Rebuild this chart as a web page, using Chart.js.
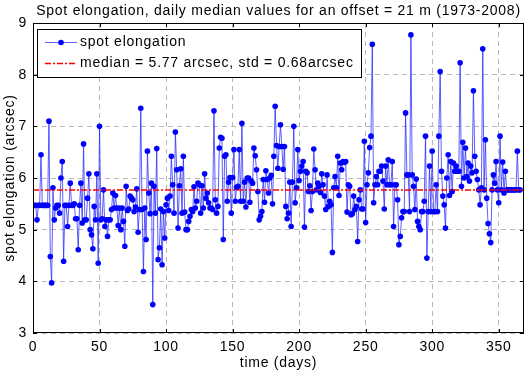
<!DOCTYPE html>
<html>
<head>
<meta charset="utf-8">
<script src="https://cdn.jsdelivr.net/npm/chart.js@4.4.1/dist/chart.umd.min.js"></script>
<style>
  html, body { margin: 0; padding: 0; background: #fff; }
  #wrap { width: 528px; height: 373px; }
</style>
</head>
<body>
<div id="wrap"><canvas id="chart" width="528" height="373"></canvas></div>
<script>
// daily median spot elongation (arcsec), one value per day of the year
const elongation = [
  5.47, 5.47, 5.19, 5.47, 5.47, 6.45, 5.47, 5.47, 5.47, 5.47,
  5.47, 7.10, 4.48, 3.97, 5.81, 5.19, 5.42, 5.47, 5.47, 5.32,
  6.00, 6.32, 4.39, 5.47, 5.47, 5.06, 5.47, 5.90, 5.47, 5.47,
  5.50, 5.21, 5.21, 4.61, 5.47, 5.90, 5.13, 6.66, 5.19, 5.19,
  5.61, 6.08, 5.00, 4.90, 4.63, 5.45, 5.19, 6.08, 4.35, 7.00,
  5.19, 5.21, 5.77, 5.06, 5.19, 4.87, 5.19, 5.19, 5.39, 5.71,
  5.42, 5.66, 5.42, 5.08, 5.42, 5.00, 5.42, 5.16, 4.68, 5.84,
  5.37, 5.40, 5.65, 5.61, 5.58, 5.35, 5.44, 5.79, 4.95, 5.39,
  7.35, 5.39, 4.19, 5.42, 4.81, 6.52, 5.71, 5.31, 5.90, 3.55,
  5.84, 5.32, 6.57, 4.42, 4.65, 5.40, 4.32, 5.35, 4.84, 5.48,
  5.61, 5.37, 5.65, 6.42, 5.87, 5.32, 6.89, 6.16, 5.03, 5.85,
  6.18, 5.32, 6.42, 5.34, 5.00, 5.00, 5.16, 5.26, 5.39, 5.35,
  5.83, 5.42, 5.55, 5.90, 5.87, 5.32, 5.85, 5.42, 6.08, 5.61,
  5.71, 5.52, 5.42, 5.42, 5.39, 7.30, 5.58, 5.32, 5.45, 6.58,
  6.79, 6.77, 4.81, 6.42, 6.45, 5.55, 5.92, 6.01, 5.32, 6.01,
  6.55, 5.55, 5.82, 5.84, 6.55, 5.55, 7.06, 5.55, 5.92, 5.44,
  6.00, 6.00, 5.53, 5.94, 5.90, 6.58, 6.43, 6.16, 5.74, 5.19,
  5.26, 5.35, 5.97, 5.53, 6.14, 5.97, 5.71, 6.00, 6.05, 5.50,
  6.42, 7.39, 6.63, 6.19, 6.61, 7.03, 6.61, 6.17, 6.61, 5.45,
  5.21, 5.32, 5.92, 5.06, 5.92, 7.00, 5.52, 5.81, 6.55, 5.95,
  6.13, 6.23, 6.32, 5.05, 6.13, 6.10, 5.74, 5.85, 5.37, 5.74,
  6.56, 6.16, 5.77, 5.90, 5.84, 5.72, 6.08, 5.87, 5.65, 5.39,
  6.06, 5.45, 5.55, 5.48, 4.56, 5.81, 6.03, 5.81, 6.42, 5.66,
  6.29, 6.16, 6.32, 6.30, 6.32, 5.34, 5.87, 5.84, 5.29, 5.31,
  5.65, 5.39, 5.45, 4.77, 5.58, 5.77, 5.40, 5.40, 6.71, 5.14,
  5.87, 6.10, 6.59, 6.81, 8.59, 5.52, 5.87, 6.03, 5.87, 6.13,
  6.13, 6.23, 5.94, 5.40, 6.23, 5.87, 6.35, 5.87, 5.87, 6.32,
  5.06, 5.87, 5.87, 5.58, 4.71, 4.87, 5.23, 5.35, 5.35, 7.26,
  6.06, 6.06, 5.35, 8.77, 6.06, 5.84, 5.39, 5.98, 5.16, 5.06,
  5.00, 5.35, 5.35, 5.55, 6.81, 4.45, 5.35, 6.23, 5.35, 6.52,
  5.35, 5.35, 5.87, 5.35, 6.81, 8.06, 6.13, 5.65, 5.48, 5.03,
  6.00, 6.45, 5.66, 6.32, 5.74, 6.29, 6.13, 6.23, 6.13, 6.13,
  8.23, 5.84, 6.69, 6.00, 6.58, 6.03, 6.29, 5.94, 6.23, 6.10,
  7.69, 6.42, 6.13, 5.97, 5.77, 5.48, 5.81, 8.50, 5.77, 6.74,
  5.61, 5.12, 4.92, 4.75, 5.77, 6.06, 5.90, 6.32, 5.77, 5.52,
  6.81, 5.77, 6.31, 5.71, 6.13, 5.77, 5.77, 5.77, 5.77, 5.77,
  5.77, 5.77, 5.77, 6.52, 5.77, 5.77
];
const days = elongation.map((_, i) => i + 1);

const median = 5.77;
const std = 0.68;
const xMin = 0, xMax = 369, xStep = 50;
const yMin = 3, yMax = 9, yStep = 1;

const titleText = "Spot elongation, daily median values for an offset = 21 m (1973-2008)";
const seriesLabel = "spot elongation";
const medianLabel = "median = " + median + " arcsec, std = " + std + "arcsec";

const FONT = "'Liberation Sans', Arial, Helvetica, sans-serif";
const SPACING = "0.75px"; // matlab text renders a bit wider than Arial

// MATLAB-ish box, inward ticks, legend and title
const decorations = {
  id: "decorations",
  beforeDraw(chart) {
    chart.ctx.letterSpacing = SPACING;
  },
  afterDraw(chart) {
    const { ctx, chartArea: a, scales: { x, y } } = chart;
    ctx.save();
    ctx.letterSpacing = SPACING;
    ctx.strokeStyle = "#000";
    ctx.lineWidth = 1;
    ctx.setLineDash([]);
    const tl = 4;
    ctx.beginPath();
    x.ticks.forEach(t => {
      const px = Math.round(x.getPixelForValue(t.value)) + 0.5;
      ctx.moveTo(px, a.bottom); ctx.lineTo(px, a.bottom - tl);
      ctx.moveTo(px, a.top); ctx.lineTo(px, a.top + tl);
    });
    y.ticks.forEach(t => {
      const py = Math.round(y.getPixelForValue(t.value)) + 0.5;
      ctx.moveTo(a.left, py); ctx.lineTo(a.left + tl, py);
      ctx.moveTo(a.right, py); ctx.lineTo(a.right - tl, py);
    });
    ctx.stroke();
    ctx.strokeRect(Math.round(a.left) + 0.5, Math.round(a.top) + 0.5,
      Math.round(a.width) - 1, Math.round(a.height) - 1);

    // legend box
    const lx = 37.5, ly = 29.5, lw = 324, lh = 48;
    ctx.fillStyle = "#fff";
    ctx.fillRect(lx, ly, lw, lh);
    ctx.strokeRect(lx, ly, lw, lh);

    // row 1: blue line + marker
    ctx.strokeStyle = "rgba(40,40,255,0.75)";
    ctx.beginPath(); ctx.moveTo(45, 42.5); ctx.lineTo(77, 42.5); ctx.stroke();
    ctx.fillStyle = "#0000ff";
    ctx.beginPath(); ctx.arc(61, 42.5, 2.8, 0, Math.PI * 2); ctx.fill();

    // row 2: red dash-dot
    ctx.strokeStyle = "#ff0000";
    ctx.lineWidth = 1.5;
    ctx.setLineDash([6, 2, 2, 2]);
    ctx.beginPath(); ctx.moveTo(45, 63.5); ctx.lineTo(77, 63.5); ctx.stroke();
    ctx.setLineDash([]);

    ctx.fillStyle = "#000";
    ctx.font = "14px " + FONT;
    ctx.textAlign = "left";
    ctx.textBaseline = "middle";
    ctx.fillText(seriesLabel, 80, 42.5);
    ctx.fillText(medianLabel, 80, 63.5);

    // title
    ctx.textAlign = "center";
    ctx.fillText(titleText, (a.left + a.right) / 2, 11);
    ctx.restore();
  }
};

new Chart(document.getElementById("chart"), {
  type: "line",
  plugins: [decorations],
  data: {
    datasets: [
      {
        label: medianLabel,
        data: [{ x: xMin, y: median }, { x: xMax, y: median }],
        borderColor: "#ff0000",
        borderWidth: 1.5,
        borderDash: [6, 2, 2, 2],
        pointRadius: 0,
        order: 0
      },
      {
        label: seriesLabel,
        data: days.map((d, i) => ({ x: d, y: elongation[i] })),
        borderColor: "rgba(40,40,255,0.75)",
        borderWidth: 1,
        pointRadius: 2.8,
        pointBackgroundColor: "#0000ff",
        pointBorderWidth: 0,
        tension: 0,
        order: 1
      }
    ]
  },
  options: {
    responsive: false,
    devicePixelRatio: 1,
    animation: false,
    layout: { padding: { top: 23, right: 3, left: 0, bottom: 0 } },
    plugins: {
      legend: { display: false },
      title: { display: false },
      tooltip: { enabled: false }
    },
    scales: {
      x: {
        type: "linear",
        min: xMin, max: xMax,
        afterFit: s => { s.height = 40; },
        ticks: {
          stepSize: xStep, includeBounds: false, padding: 6,
          color: "#000", font: { family: FONT, size: 14 }
        },
        grid: { color: "#b8b8b8", lineWidth: 1, drawTicks: false },
        border: { display: false, dash: [5, 4] },
        title: {
          display: true, text: "time (days)", color: "#000",
          font: { family: FONT, size: 14 }, padding: { top: 0, bottom: 1 }
        }
      },
      y: {
        type: "linear",
        min: yMin, max: yMax,
        afterFit: s => { s.width = 33; },
        ticks: {
          stepSize: yStep, padding: 6,
          color: "#000", font: { family: FONT, size: 14 }
        },
        grid: { color: "#b8b8b8", lineWidth: 1, drawTicks: false },
        border: { display: false, dash: [5, 4] },
        title: {
          display: true, text: "spot elongation (arcsec)", color: "#000",
          font: { family: FONT, size: 14 }, padding: { top: 2, bottom: 0 }
        }
      }
    }
  }
});
</script>
</body>
</html>
